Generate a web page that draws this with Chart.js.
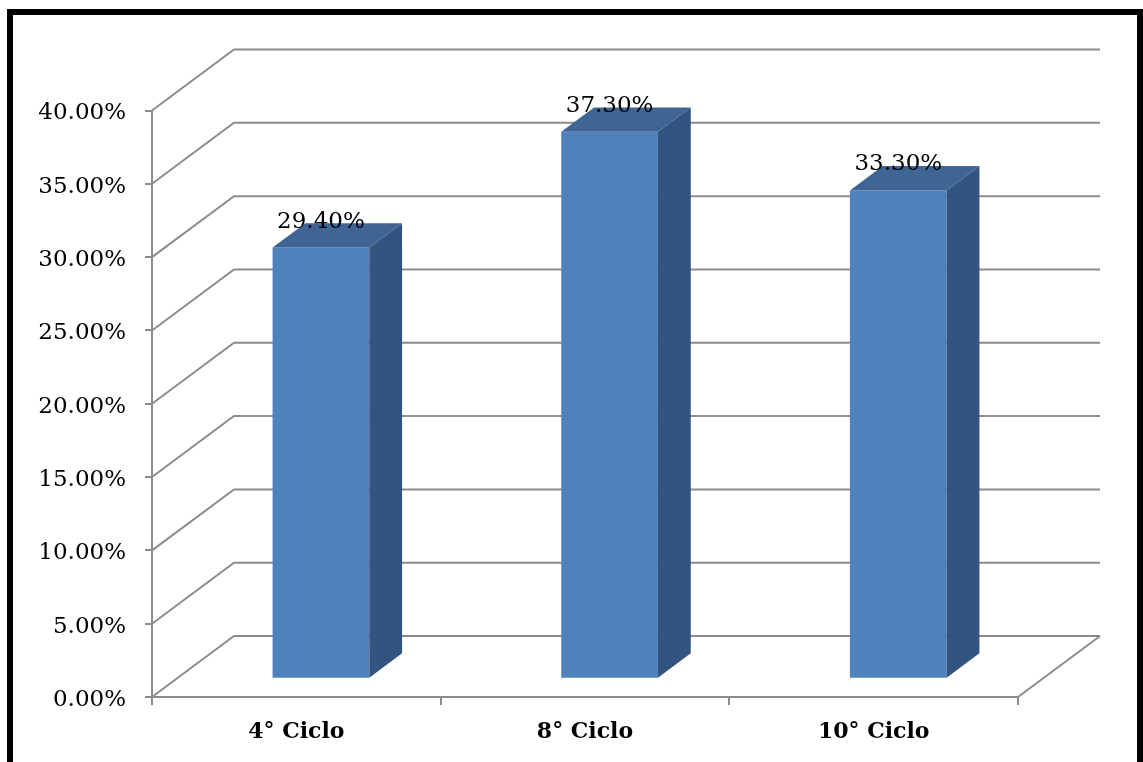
<!DOCTYPE html>
<html><head><meta charset="utf-8">
<script src="https://cdn.jsdelivr.net/npm/chart.js@4.4.1/dist/chart.umd.min.js"></script>
<style>html,body{margin:0;padding:0;background:#fff;overflow:hidden}canvas{display:block}</style>
</head><body>
<canvas id="c" width="1143" height="762"></canvas>
<script>
const categories = ['4° Ciclo', '8° Ciclo', '10° Ciclo'];
const percentages = [29.4, 37.3, 33.3];
const axisMin = 0, axisMax = 40, axisStep = 5;

const DEPTH_X = 82, DEPTH_Y = -61;
const BAR_FRONT = 0.3, BAR_BACK = 0.7;
const GRID_COLOR = '#8c8c8c';
const FRONT = '#4f81bd', SIDE = '#33547f', TOP = '#3e6594';
const FONT = "'DejaVu Serif', serif";

const threeD = {
  id: 'threeD',
  beforeDatasetsDraw(chart) {
    const {ctx, chartArea: a, scales: {y}} = chart;
    ctx.save();
    ctx.strokeStyle = GRID_COLOR; ctx.lineWidth = 2;
    y.ticks.forEach(t => {
      const py = y.getPixelForValue(t.value);
      ctx.beginPath();
      ctx.moveTo(a.left, py);
      ctx.lineTo(a.left + DEPTH_X, py + DEPTH_Y);
      ctx.lineTo(a.right + DEPTH_X, py + DEPTH_Y);
      ctx.stroke();
    });
    const p0 = y.getPixelForValue(axisMin);
    ctx.beginPath();
    ctx.moveTo(a.right, p0);
    ctx.lineTo(a.right + DEPTH_X, p0 + DEPTH_Y);
    ctx.stroke();
    ctx.restore();
    ctx.save();
    ctx.translate(DEPTH_X * BAR_FRONT, DEPTH_Y * BAR_FRONT);
  },
  afterDatasetsDraw(chart) {
    const {ctx} = chart;
    const meta = chart.getDatasetMeta(0);
    const dx = DEPTH_X * (BAR_BACK - BAR_FRONT), dy = DEPTH_Y * (BAR_BACK - BAR_FRONT);
    meta.data.forEach((bar, i) => {
      const {x, y, base, width} = bar.getProps(['x', 'y', 'base', 'width'], true);
      const l = x - width / 2, r = x + width / 2;
      ctx.fillStyle = SIDE;
      ctx.beginPath(); ctx.moveTo(r, y); ctx.lineTo(r + dx, y + dy); ctx.lineTo(r + dx, base + dy); ctx.lineTo(r, base); ctx.closePath(); ctx.fill();
      ctx.fillStyle = TOP;
      ctx.beginPath(); ctx.moveTo(l, y); ctx.lineTo(l + dx, y + dy); ctx.lineTo(r + dx, y + dy); ctx.lineTo(r, y); ctx.closePath(); ctx.fill();
    });
    meta.data.forEach((bar, i) => {
      const {x, y} = bar.getProps(['x', 'y'], true);
      ctx.fillStyle = '#000';
      ctx.font = "23px " + FONT;
      ctx.textAlign = 'center';
      ctx.textBaseline = 'middle';
      ctx.fillText(percentages[i].toFixed(2) + '%', x, y - 26);
    });
    ctx.restore();
  },
  afterDraw(chart) {
    const {ctx} = chart;
    ctx.save();
    ctx.fillStyle = '#000';
    ctx.fillRect(7, 9, 6, 753);
    ctx.fillRect(7, 9, 1136, 6);
    ctx.fillRect(1137, 9, 6, 753);
    ctx.restore();
  }
};

Chart.defaults.font.family = FONT;
Chart.defaults.color = '#000';

new Chart(document.getElementById('c'), {
  type: 'bar',
  data: {
    labels: categories,
    datasets: [{
      data: percentages,
      backgroundColor: FRONT,
      borderWidth: 0,
      barPercentage: 0.335,
      categoryPercentage: 1
    }]
  },
  options: {
    responsive: false,
    animation: false,
    devicePixelRatio: 1,
    layout: {padding: {top: 110.5, right: 125, left: 0, bottom: 0}},
    plugins: {legend: {display: false}, tooltip: {enabled: false}},
    scales: {
      x: {
        afterFit(s) { s.height = 65; },
        grid: {display: true, drawOnChartArea: false, drawTicks: true, tickLength: 8, color: GRID_COLOR, lineWidth: 2, offset: true},
        border: {display: true, color: GRID_COLOR, width: 2},
        ticks: {font: {size: 22, weight: 'bold'}, padding: 14, color: '#000'}
      },
      y: {
        min: axisMin, max: axisMax,
        afterFit(s) { s.width = 152; },
        grid: {display: true, drawOnChartArea: false, drawTicks: true, tickLength: 7, color: GRID_COLOR, lineWidth: 2},
        border: {display: true, color: GRID_COLOR, width: 2},
        ticks: {stepSize: axisStep, font: {size: 23}, padding: 19, labelOffset: 3, color: '#000',
          callback: v => v.toFixed(2) + '%'}
      }
    }
  },
  plugins: [threeD]
});
</script>
</body></html>
